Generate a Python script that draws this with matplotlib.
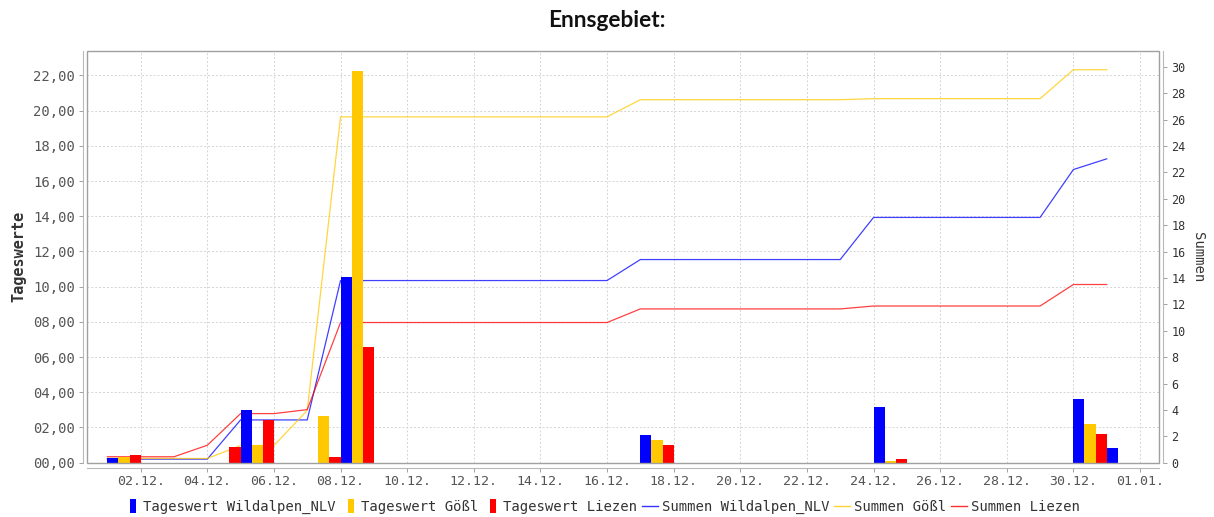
import numpy as np
import pandas as pd
import matplotlib
matplotlib.use("Agg")
import matplotlib.pyplot as plt
import matplotlib.dates as mdates
from matplotlib.patches import Rectangle
from matplotlib.lines import Line2D
from matplotlib.legend_handler import HandlerPatch
from matplotlib.ticker import FuncFormatter, MultipleLocator
from matplotlib.transforms import blended_transform_factory

# ---------------- data ----------------
dates = pd.date_range("2023-12-01", "2023-12-31", freq="D")

tag_wildalpen = [0.27, 0, 0, 0, 2.97, 0, 0, 10.56, 0, 0, 0, 0, 0, 0, 0, 0,
                 1.59, 0, 0, 0, 0, 0, 0, 3.19, 0, 0, 0, 0, 0, 3.63, 0.81]
tag_goessl = [0.32, 0, 0, 0, 0.98, 0, 2.66, 22.24, 0, 0, 0, 0, 0, 0, 0, 0,
              1.30, 0, 0, 0, 0, 0, 0, 0.08, 0, 0, 0, 0, 0, 2.19, 0]
tag_liezen = [0.45, 0, 0, 0.87, 2.40, 0, 0.30, 6.60, 0, 0, 0, 0, 0, 0, 0, 0,
              1.03, 0, 0, 0, 0, 0, 0, 0.22, 0, 0, 0, 0, 0, 1.63, 0]

sum_wildalpen = [0.27, 0.27, 0.27, 0.27, 3.24, 3.24, 3.24,
                 13.80, 13.80, 13.80, 13.80, 13.80, 13.80, 13.80, 13.80, 13.80,
                 15.39, 15.39, 15.39, 15.39, 15.39, 15.39, 15.39,
                 18.58, 18.58, 18.58, 18.58, 18.58, 18.58, 22.21, 23.02]
sum_goessl = [0.32, 0.32, 0.32, 0.32, 1.30, 1.30, 3.96,
              26.20, 26.20, 26.20, 26.20, 26.20, 26.20, 26.20, 26.20, 26.20,
              27.50, 27.50, 27.50, 27.50, 27.50, 27.50, 27.50,
              27.58, 27.58, 27.58, 27.58, 27.58, 27.58, 29.77, 29.77]
sum_liezen = [0.45, 0.45, 0.45, 1.32, 3.72, 3.72, 4.02,
              10.62, 10.62, 10.62, 10.62, 10.62, 10.62, 10.62, 10.62, 10.62,
              11.65, 11.65, 11.65, 11.65, 11.65, 11.65, 11.65,
              11.87, 11.87, 11.87, 11.87, 11.87, 11.87, 13.50, 13.50]

bar_labels = ["Tageswert Wildalpen_NLV", "Tageswert Gößl", "Tageswert Liezen"]
line_labels = ["Summen Wildalpen_NLV", "Summen Gößl", "Summen Liezen"]
title = "Ennsgebiet:"

# ---------------- styles ----------------
C_BLUE, C_YEL, C_RED = "#0000ff", "#ffc800", "#ff0000"
MONO = "DejaVu Sans Mono"
GRID_KW = dict(color="#d4d4d4", linestyle=(0, (2, 2)), lw=0.7)

W, H = 1214, 517
fig = plt.figure(figsize=(W / 100, H / 100), dpi=100)
left, right, top, bottom = 86.7, 1159.0, 51.0, 462.7
pos = [left / W, 1 - bottom / H, (right - left) / W, (bottom - top) / H]
ax2 = fig.add_axes(pos)                 # sums (right axis), drawn behind
ax = fig.add_axes(pos, sharex=ax2)      # daily values (left axis), drawn in front
ax.set_zorder(ax2.get_zorder() + 1)
ax.patch.set_visible(False)

x = mdates.date2num(dates)
bw = 1 / 3

# lines (right axis, behind bars)
for vals, c in zip([sum_wildalpen, sum_goessl, sum_liezen], [C_BLUE, C_YEL, C_RED]):
    ax2.plot(x, vals, color=c, lw=0.9, alpha=0.75, zorder=3)

# bars (left axis)
for i, (vals, c) in enumerate(zip([tag_wildalpen, tag_goessl, tag_liezen], [C_BLUE, C_YEL, C_RED])):
    ax.bar(x + i * bw, vals, width=bw, align="edge", color=c, linewidth=0, zorder=3)

# x axis
d0 = mdates.date2num(pd.Timestamp("2023-12-02"))
ax.set_xlim(d0 - 1.62, d0 + 30.57)
xt = mdates.date2num(pd.date_range("2023-12-02", "2024-01-01", freq="2D"))
ax.set_xticks(xt)
ax.xaxis.set_major_formatter(mdates.DateFormatter("%d.%m."))

# y axes
ax.set_ylim(0, 23.39)
ax.yaxis.set_major_locator(MultipleLocator(2))
ax.yaxis.set_major_formatter(FuncFormatter(lambda v, p: f"{v:05.2f}".replace(".", ",")))
ax2.set_ylim(0, 31.19)
ax2.yaxis.set_major_locator(MultipleLocator(2))
ax2.yaxis.tick_right()
ax2.yaxis.set_label_position("right")

# grid drawn on the back axes (behind the sum lines)
ax2.grid(True, axis="x", zorder=0, **GRID_KW)
ax2.set_axisbelow(True)
bt = blended_transform_factory(ax2.transAxes, ax.transData)
for v in np.arange(2, 23.39, 2):
    ax2.plot([0, 1], [v, v], transform=bt, zorder=1, **GRID_KW)

# spines
for s in ["top", "right"]:
    ax.spines[s].set_visible(False)
ax.spines["left"].set_position(("outward", 2.9))
ax.spines["bottom"].set_position(("outward", 3.6))
ax.spines["left"].set_color("#b8b8b8")
ax.spines["bottom"].set_color("#b8b8b8")
for s in ["top", "left", "bottom"]:
    ax2.spines[s].set_visible(False)
ax2.spines["right"].set_position(("outward", 2.9))
ax2.spines["right"].set_color("#b8b8b8")
ax2.tick_params(axis="x", bottom=False, labelbottom=False)

frame = Rectangle((0, 0), 1, 1, transform=ax.transAxes, fill=False,
                  edgecolor="#a0a0a0", lw=1.0, zorder=10, clip_on=False)
ax.add_patch(frame)

ax.tick_params(axis="y", direction="out", length=3, width=0.7, color="#a0a0a0",
               pad=2.5, labelsize=10, labelcolor="#555555")
ax.tick_params(axis="x", direction="out", length=3, width=0.7, color="#a0a0a0",
               pad=2.5, labelsize=9.5, labelcolor="#555555")
ax2.tick_params(axis="y", direction="out", length=3, width=0.7, color="#a0a0a0",
                pad=3, labelsize=8.5, labelcolor="#333333")
for lab in ax.get_xticklabels() + ax.get_yticklabels() + ax2.get_yticklabels():
    lab.set_family(MONO)

ax.set_ylabel("Tageswerte", family=MONO, fontweight="bold", fontsize=11,
              color="#333333", labelpad=5)
ax2.set_ylabel("Summen", family=MONO, fontsize=10, color="#333333",
               rotation=-90, labelpad=4, va="bottom")

fig.text(0.5, 1 - 20.5 / H, title, ha="center", va="center",
         family="Lato", fontweight="bold", fontsize=16.3, color="#111111")


# legend
class NarrowBar(HandlerPatch):
    def create_artists(self, legend, orig_handle, xdescent, ydescent, width, height, fontsize, trans):
        w, h = 4.0, 9.5
        r = Rectangle((-xdescent + width - w - 2.0, -ydescent + height / 2 - h / 2), w, h,
                      facecolor=orig_handle.get_facecolor(), edgecolor="none", transform=trans)
        return [r]


handles = [Rectangle((0, 0), 1, 1, facecolor=c) for c in [C_BLUE, C_YEL, C_RED]]
handles += [Line2D([], [], color=c, lw=1.0, alpha=0.8) for c in [C_BLUE, C_YEL, C_RED]]
fig.legend(handles, bar_labels + line_labels, loc="center", bbox_to_anchor=(0.4955, 1 - 507 / H),
           ncol=6, frameon=False, prop={"family": MONO, "size": 10},
           handlelength=1.15, handletextpad=0.3, columnspacing=0.35,
           handler_map={Rectangle: NarrowBar()}, labelcolor="#333333")

fig.savefig("out.png", dpi=100)
